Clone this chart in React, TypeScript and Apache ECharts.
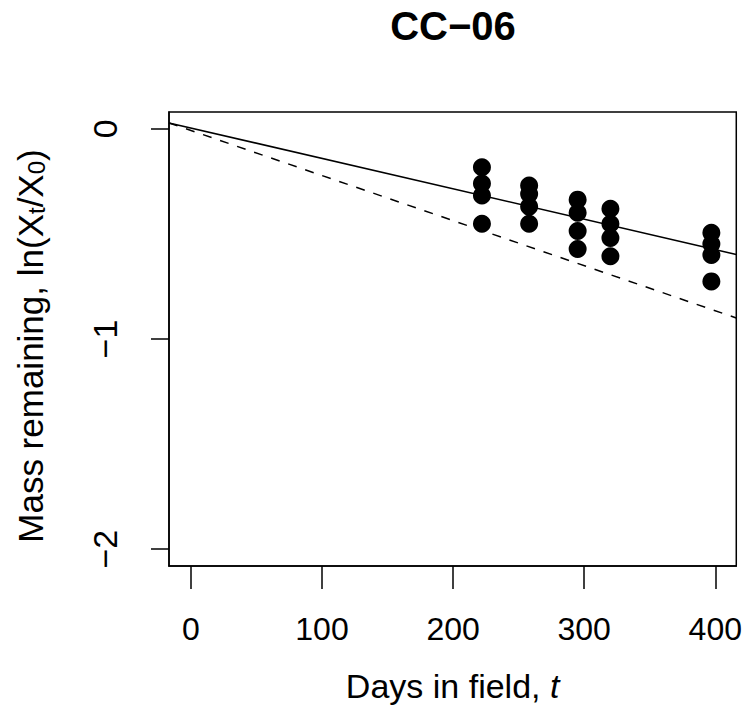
import React, { useEffect, useRef } from "react";
import * as echarts from "echarts";

const FONT = "'Liberation Sans', Arial, sans-serif";

const titleText = "CC\u221206";
const xTicks = [0, 100, 200, 300, 400];
const yTicks = [-2, -1, 0];
const xRange = [-16.7, 416];
const yRange = [-2.08, 0.08];

// observed ln(Xt/X0) values by sampling day
const days = [222, 258, 295, 320, 397];
const day222 = [-0.183, -0.26, -0.317, -0.452];
const day258 = [-0.27, -0.31, -0.37, -0.452];
const day295 = [-0.337, -0.399, -0.486, -0.572];
const day320 = [-0.38, -0.452, -0.519, -0.606];
const day397 = [-0.495, -0.548, -0.6, -0.726];
const observed = [day222, day258, day295, day320, day397];

// fitted lines (end points at the plot edges)
const solidFit = [
  [-16.7, 0.028],
  [416, -0.598],
];
const dashedFit = [
  [-16.7, 0.028],
  [416, -0.9],
];

const fmtNum = (v: number) => (v < 0 ? "\u2212" + Math.abs(v) : String(v));

export default function App() {
  const ref = useRef<HTMLDivElement>(null);
  useEffect(() => {
    if (!ref.current) return;
    const chart = echarts.init(ref.current, undefined, { renderer: "svg" });
    const points: number[][] = [];
    observed.forEach((vals, i) => vals.forEach((v) => points.push([days[i], v])));
    chart.setOption({
      animation: false,
      backgroundColor: "#fff",
      title: {
        text: titleText,
        left: 448,
        top: 1,
        textAlign: "center",
        textStyle: { fontFamily: FONT, fontWeight: "bold", fontSize: 40, color: "#000" },
      },
      grid: {
        left: 169,
        right: 7,
        top: 112,
        bottom: 162,
        show: true,
        borderColor: "#000",
        borderWidth: 1.5,
        backgroundColor: "transparent",
      },
      xAxis: {
        type: "value",
        min: xRange[0],
        max: xRange[1],
        name: "Days in field, {it|t}",
        nameLocation: "middle",
        nameGap: 103,
        nameTextStyle: {
          fontFamily: FONT,
          fontSize: 34,
          color: "#000",
          rich: { it: { fontFamily: FONT, fontSize: 34, fontStyle: "italic", color: "#000" } },
        },
        axisLine: { show: true, onZero: false, lineStyle: { color: "#000", width: 1.5 } },
        axisTick: { show: true, length: 23, customValues: xTicks, lineStyle: { color: "#000", width: 1.5 } },
        axisLabel: {
          customValues: xTicks,
          fontFamily: FONT,
          fontSize: 32,
          color: "#000",
          margin: 47,
          formatter: (v: number) => fmtNum(v),
        },
        splitLine: { show: false },
      },
      yAxis: {
        type: "value",
        min: yRange[0],
        max: yRange[1],
        name: "Mass remaining, ln(X{sub|t}/X{sub|0})",
        nameLocation: "middle",
        nameGap: 121,
        nameTextStyle: {
          fontFamily: FONT,
          fontSize: 35,
          color: "#000",
          padding: [0, 14, 0, 0],
          rich: {
            sub: { fontFamily: FONT, fontSize: 24, color: "#000", verticalAlign: "bottom", padding: [12, 0, 0, 0] },
          },
        },
        axisLine: { show: true, onZero: false, lineStyle: { color: "#000", width: 1.5 } },
        axisTick: { show: true, length: 18, customValues: yTicks, lineStyle: { color: "#000", width: 1.5 } },
        axisLabel: {
          customValues: yTicks,
          rotate: 90,
          fontFamily: FONT,
          fontSize: 34,
          color: "#000",
          margin: 47,
          formatter: (v: number) => fmtNum(v),
        },
        splitLine: { show: false },
      },
      series: [
        {
          type: "line",
          data: solidFit,
          symbol: "none",
          lineStyle: { color: "#000", width: 1.5 },
          z: 2,
        },
        {
          type: "line",
          data: dashedFit,
          symbol: "none",
          lineStyle: { color: "#000", width: 1.5, type: [9, 9] },
          z: 2,
        },
        {
          type: "scatter",
          data: points,
          symbol: "circle",
          symbolSize: 18,
          itemStyle: { color: "#000", opacity: 1 },
          z: 3,
        },
      ],
    });
    return () => chart.dispose();
  }, []);
  return (
    <div
      ref={ref}
      style={{ position: "absolute", left: 0, top: 0, width: 745, height: 728, background: "#fff" }}
    />
  );
}
